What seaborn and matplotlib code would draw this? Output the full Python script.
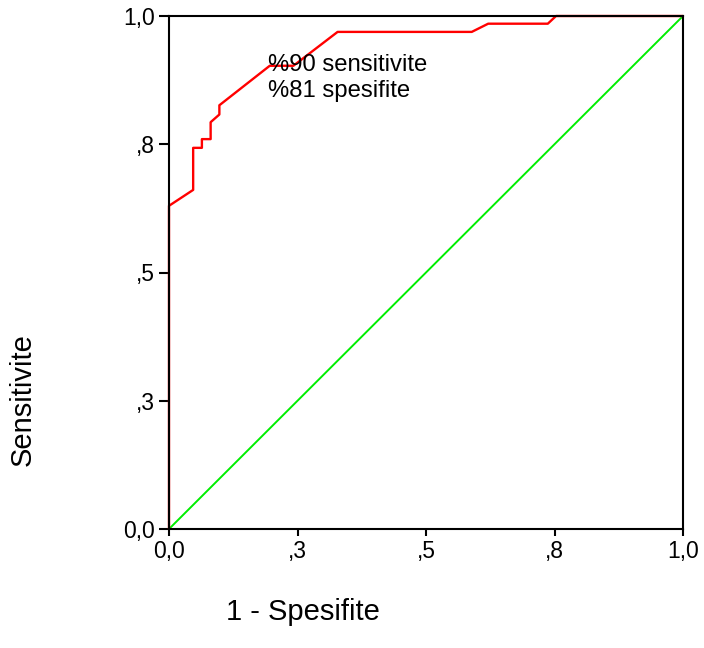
import seaborn as sns
from matplotlib import pyplot as plt
import pandas as pd

# ROC curve points
fpr = [0, 0, 0.047, 0.047, 0.064, 0.064, 0.081, 0.081, 0.098, 0.098,
       0.196, 0.242, 0.328, 0.589, 0.621, 0.737, 0.753, 1.0]
tpr = [0, 0.630, 0.661, 0.743, 0.743, 0.760, 0.760, 0.793, 0.808, 0.826,
       0.903, 0.903, 0.969, 0.969, 0.985, 0.985, 1.0, 1.0]
ref_x = [0, 1]
ref_y = [0, 1]

tick_vals = [0, 0.25, 0.5, 0.75, 1.0]
tick_labels = ['0,0', ',3', ',5', ',8', '1,0']

sns.set_style('ticks')
plt.rcParams['font.family'] = ['Liberation Sans', 'DejaVu Sans']
plt.rcParams['text.color'] = 'black'
plt.rcParams['xtick.color'] = 'black'
plt.rcParams['ytick.color'] = 'black'

fig = plt.figure(figsize=(7.04, 6.48), dpi=100)
ax = fig.add_axes([169 / 704, 1 - 529 / 648, 514 / 704, 513 / 648])

roc = pd.DataFrame({'x': fpr, 'y': tpr})
diag = pd.DataFrame({'x': ref_x, 'y': ref_y})

sns.lineplot(data=diag, x='x', y='y', sort=False, estimator=None,
             color='#00ee00', linewidth=1.4, ax=ax, clip_on=False)
sns.lineplot(data=roc, x='x', y='y', sort=False, estimator=None,
             color='#ff0000', linewidth=1.7, ax=ax, clip_on=False)

ax.set_xlim(0, 1)
ax.set_ylim(0, 1)
ax.set_xticks(tick_vals)
ax.set_xticklabels(tick_labels)
ax.set_yticks(tick_vals)
ax.set_yticklabels(tick_labels)
ax.tick_params(labelsize=16.5, width=1.5, labelcolor='black')
ax.tick_params(axis='x', length=5, pad=3)
ax.tick_params(axis='y', length=7, pad=3)
for s in ax.spines.values():
    s.set_linewidth(1.5)
    s.set_color('black')
ax.set_xlabel('')
ax.set_ylabel('')

ax.text(0.193, 0.905, '%90 sensitivite', fontsize=17.2, va='center')
ax.text(0.193, 0.853, '%81 spesifite', fontsize=17.2, va='center')

fig.text(303 / 704, 1 - 612 / 648, '1 - Spesifite', fontsize=21,
         ha='center', va='center')
fig.text(23 / 704, 1 - 400 / 648, 'Sensitivite', fontsize=21,
         ha='center', va='center', rotation=90)

plt.savefig('out.png', dpi=100)
